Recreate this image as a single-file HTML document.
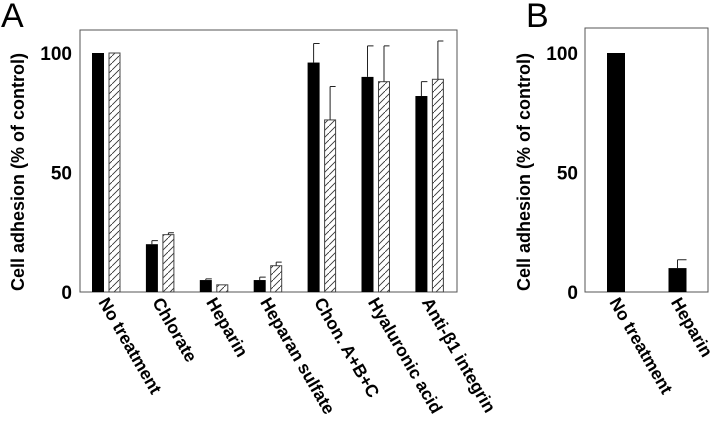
<!DOCTYPE html>
<html><head><meta charset="utf-8"><style>
html,body{margin:0;padding:0;background:#fff;}
svg{display:block;font-family:"Liberation Sans",Arial,sans-serif;}
</style></head><body>
<svg id="chart" width="720" height="429">
<defs>
<pattern id="hatch" patternUnits="userSpaceOnUse" width="7" height="7">
<path d="M-1,8 L8,-1" stroke="#333" stroke-width="0.9"/>
</pattern>
</defs>
<g id="gA"></g>
<g id="gB"></g>
</svg>
<script>
const catsA = ["No treatment","Chlorate","Heparin","Heparan sulfate","Chon. A+B+C","Hyaluronic acid","Anti-β1 integrin"];
const solidA = [100,20,5,5,96,90,82];
const solidErrA = [0,1.5,0.5,1.2,8,13,6];
const hatchA = [100,24,3,11,72,88,89];
const hatchErrA = [0,0.8,0,1.5,14,15,16];
const catsB = ["No treatment","Heparin"];
const solidB = [100,10];
const solidErrB = [0,3.5];
const yTicks = [0,50,100];

const NS="http://www.w3.org/2000/svg";
function mk(p,t,a){const e=document.createElementNS(NS,t);for(const k in a)e.setAttribute(k,a[k]);p.appendChild(e);return e;}
const y0=292,y100=53;
function yS(v){return y0-(y0-y100)*v/100;}

function panel(g,letter,lx,left,right,top,yLabelX,tickX,cats,centerFn,labelDx){
  const L=mk(g,'text',{x:lx,y:27,'font-size':34});L.textContent=letter;
  
  
  const fr=mk(g,'rect',{x:left,y:top,width:right-left,height:y0-top,fill:'none',stroke:'#555','stroke-width':1});
  
  
  yTicks.forEach(v=>{
    const t=mk(g,'text',{x:tickX,y:yS(v)+7,'font-size':19,'font-weight':'bold','text-anchor':'end'});t.textContent=v;
    
    
  });
  const yl=mk(g,'text',{x:0,y:0,'font-size':18,'font-weight':'bold','text-anchor':'middle',transform:`translate(${yLabelX},172) rotate(-90)`});
  yl.textContent='Cell adhesion (% of control)';
  
  
  cats.forEach((c,i)=>{
    const cx=centerFn(i)+labelDx;
    const t=mk(g,'text',{x:0,y:0,'font-size':17.5,'font-weight':'bold',transform:`translate(${cx},302) rotate(60)`});
    t.textContent=c;
    
    
  });
}
function bar(g,x,w,v,err,fill,name){
  const r=mk(g,'rect',{x:x,y:yS(v),width:w,height:y0-yS(v),fill:fill,stroke:fill==='#000'?'#000':'#444','stroke-width':fill==='#000'?0:1});
  
  
  if(err>0){
    const cx=x+w/2,yt=yS(v+err);
    const e=mk(g,'path',{d:`M${cx},${yS(v)} V${yt} M${cx},${yt} H${x+w}`,stroke:'#222','stroke-width':1,fill:'none'});
    
    
  }
}
const gA=document.getElementById('gA');
const cA=i=>106+i*53.9;
panel(gA,'A',1,80,457,30,24,72,catsA,cA,-8);
catsA.forEach((c,i)=>{
  bar(gA,cA(i)-14,12,solidA[i],solidErrA[i],'#000','bar-solid');
  bar(gA,cA(i)+3,11,hatchA[i],hatchErrA[i],'url(#hatch)','bar-hatched');
});
const gB=document.getElementById('gB');
const cB=i=>616+i*61.5;
panel(gB,'B',526,585,708,28,530,578,catsB,cB,-7);
catsB.forEach((c,i)=>{
  bar(gB,cB(i)-9,18,solidB[i],solidErrB[i],'#000','bar-solid');
});
</script>
</body></html>
